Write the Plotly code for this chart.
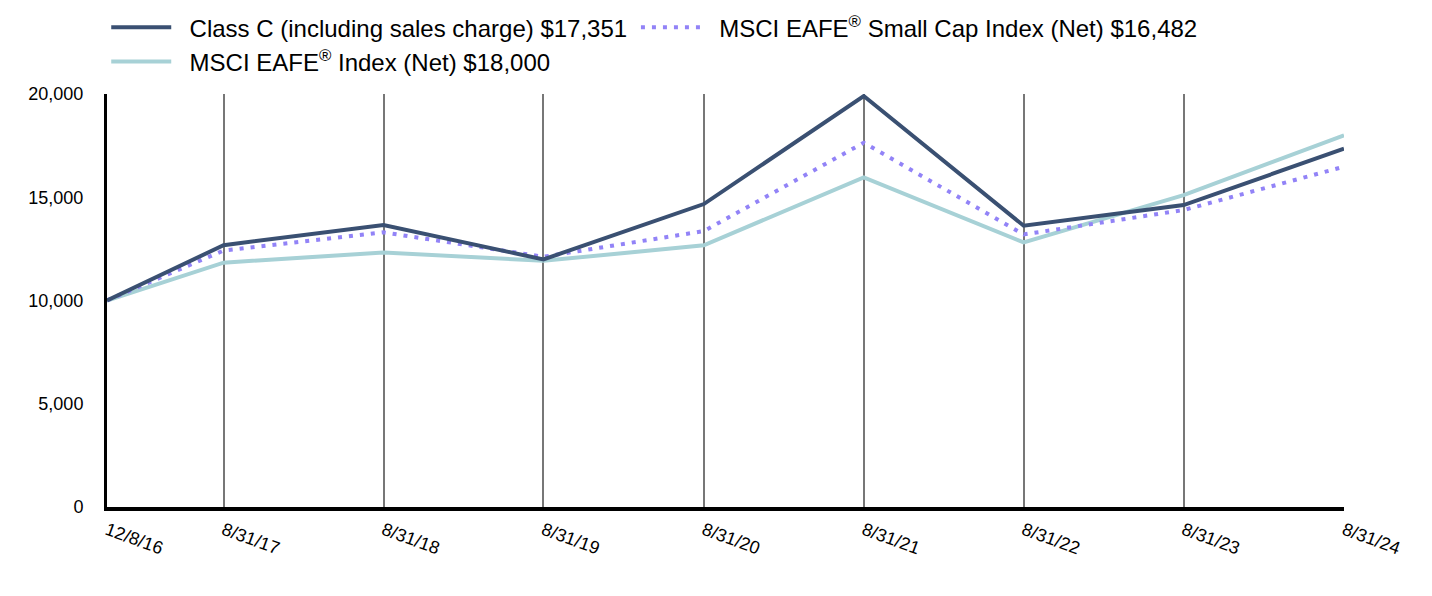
import plotly.graph_objects as go

dates = ["2016-12-08", "2017-08-31", "2018-08-31", "2019-08-31", "2020-08-31",
         "2021-08-31", "2022-08-31", "2023-08-31", "2024-08-31"]
tick_labels = ["12/8/16", "8/31/17", "8/31/18", "8/31/19", "8/31/20",
               "8/31/21", "8/31/22", "8/31/23", "8/31/24"]

class_c = [10000, 12680, 13650, 11990, 14670, 19900, 13620, 14620, 17351]
eafe = [10000, 11830, 12330, 11920, 12670, 15960, 12810, 15100, 18000]
small_cap = [10000, 12420, 13300, 12120, 13360, 17640, 13200, 14380, 16482]

PAD = "\u00a0\u00a0"
name_c = PAD + "Class C (including sales charge) $17,351"
name_eafe = PAD + "MSCI EAFE<sup>®</sup> Index (Net) $18,000"
name_small = PAD + "MSCI EAFE<sup>®</sup> Small Cap Index (Net) $16,482"

y_ticks = [0, 5000, 10000, 15000, 20000]

FONT = "Arial, 'Liberation Sans', sans-serif"

fig = go.Figure()
fig.add_trace(go.Scatter(x=dates, y=eafe, mode="lines", name=name_eafe,
                         line=dict(color="#A7D1D6", width=4), legendrank=2,
                         legend="legend"))
fig.add_trace(go.Scatter(x=dates, y=small_cap, mode="lines", name=name_small,
                         line=dict(color="#9283F7", width=4, dash="4px,7px"),
                         legend="legend2"))
fig.add_trace(go.Scatter(x=dates, y=class_c, mode="lines", name=name_c,
                         line=dict(color="#3A5072", width=4), legendrank=1,
                         legend="legend"))

legend_common = dict(
    orientation="v", xref="container", yref="paper",
    y=1.215, xanchor="left", yanchor="top",
    font=dict(size=24, family=FONT),
    itemwidth=60, traceorder="normal", tracegroupgap=0,
    bgcolor="rgba(0,0,0,0)",
)

fig.update_layout(
    width=1432, height=596,
    margin=dict(l=99, r=96, t=86, b=97, autoexpand=False),
    paper_bgcolor="white", plot_bgcolor="white",
    font=dict(family=FONT, color="black", size=18),
    hovermode=False,
    legend=dict(x=0.0686, **legend_common),
    legend2=dict(x=0.4385, **legend_common),
    xaxis=dict(
        type="date", automargin=False,
        range=["2016-12-08", "2024-08-31"],
        tickmode="array", tickvals=dates, ticktext=tick_labels,
        tickangle=20, ticks="", ticklabelstandoff=2,
        showgrid=True, gridcolor="#777777", gridwidth=2,
        showline=True, linecolor="black", linewidth=4,
        zeroline=False,
        tickfont=dict(size=18, family=FONT),
    ),
    yaxis=dict(
        automargin=False,
        range=[0, 20000],
        tickmode="array", tickvals=y_ticks, tickformat=",",
        ticks="", ticklabelstandoff=17,
        showgrid=False, zeroline=False,
        showline=True, linecolor="black", linewidth=3,
        tickfont=dict(size=18, family=FONT),
    ),
)

fig.write_html("out.html")
